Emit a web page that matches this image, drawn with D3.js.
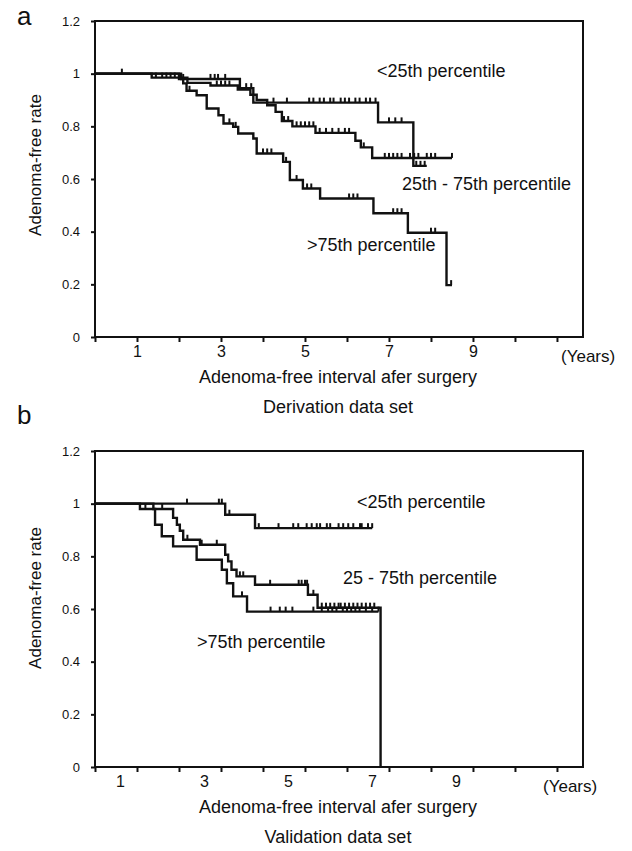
<!DOCTYPE html>
<html>
<head>
<meta charset="utf-8">
<script src="https://cdn.jsdelivr.net/npm/d3@7"></script>
<style>
  body { margin: 0; background: #fff; }
  text { font-family: "Liberation Sans", Arial, sans-serif; fill: #111; }
</style>
</head>
<body>
<div id="wrapper"></div>
<script>
// axis values
const yearTicks = [0, 1, 2, 3, 4, 5, 6, 7, 8, 9, 10, 11];
const yearLabels = [1, 3, 5, 7, 9];
const rateTicks = [0, 0.2, 0.4, 0.6, 0.8, 1, 1.2];
const groupNames = ["<25th percentile", "25th - 75th percentile", ">75th percentile"];
const groupNamesB = ["<25th percentile", "25 - 75th percentile", ">75th percentile"];

// panel a, derivation set : step times, survival after each step, censor times, last follow-up
const aTopTimes = [0, 2.05, 3.45, 3.77, 6.74, 7.58];
const aTopSurv = [1, 0.98, 0.945, 0.89, 0.815, 0.65];
const aTopCens = [0.64, 2.1, 2.75, 2.85, 2.93, 3.1, 3.6, 3.72, 4.25, 4.57, 5.1, 5.2, 5.35, 5.45, 5.6, 5.68,
  5.85, 5.95, 6.05, 6.2, 6.3, 6.45, 6.55, 6.68, 7.0, 7.15, 7.3, 7.65, 7.75, 7.85];
const aTopEnd = 7.9;

const aMidTimes = [0, 1.35, 2.2, 2.75, 3.4, 3.7, 3.85, 4.1, 4.3, 4.45, 4.7, 5.25, 6.2, 6.33, 6.6];
const aMidSurv = [1, 0.985, 0.965, 0.955, 0.94, 0.92, 0.9, 0.88, 0.855, 0.82, 0.8, 0.775, 0.745, 0.72, 0.68];
const aMidCens = [1.45, 1.6, 1.7, 1.8, 1.9, 2.9, 3.0, 3.1, 3.2, 4.5, 4.6, 4.8, 4.9, 5.0, 5.1, 5.2, 5.35, 5.5,
  5.65, 5.8, 5.95, 6.05, 6.4, 6.9, 7.0, 7.1, 7.2, 7.3, 7.5, 7.6, 7.7, 7.9, 8.0, 8.1, 8.5];
const aMidEnd = 8.5;

const aLowTimes = [0, 2.0, 2.1, 2.18, 2.42, 2.66, 2.94, 3.06, 3.29, 3.41, 3.77, 3.85, 4.48, 4.64, 4.95, 5.36, 6.63, 7.45, 8.37];
const aLowSurv = [1, 0.98, 0.963, 0.935, 0.918, 0.868, 0.842, 0.811, 0.798, 0.773, 0.754, 0.697, 0.665, 0.596, 0.564, 0.526, 0.47, 0.396, 0.197];
const aLowCens = [2.25, 3.2, 3.35, 4.0, 4.1, 4.2, 4.55, 4.8, 5.05, 5.15, 6.05, 6.15, 6.25, 7.1, 7.2, 7.3, 8.0, 8.1, 8.48];
const aLowEnd = 8.5;

// panel b, validation set
const bTopTimes = [0, 3.1, 3.81];
const bTopSurv = [1, 0.958, 0.907];
const bTopCens = [2.19, 2.95, 3.02, 3.2, 3.9, 4.37, 4.72, 4.84, 5.04, 5.16, 5.28, 5.36, 5.52, 5.6, 5.8, 5.91,
  6.03, 6.15, 6.31, 6.35, 6.5, 6.6];
const bTopEnd = 6.6;

const bMidTimes = [0, 1.39, 1.86, 1.95, 2.02, 2.1, 2.5, 3.1, 3.17, 3.25, 3.37, 3.81, 5.07, 5.3, 6.8];
const bMidSurv = [1, 0.98, 0.946, 0.92, 0.897, 0.863, 0.844, 0.806, 0.781, 0.749, 0.724, 0.692, 0.654, 0.605, 0];
const bMidCens = [1.6, 2.2, 2.54, 2.9, 3.45, 3.53, 4.17, 4.85, 4.92, 5.0, 5.05, 5.2, 5.4, 5.5, 5.6, 5.7, 5.8,
  5.85, 5.95, 6.05, 6.15, 6.25, 6.35, 6.45, 6.55, 6.65];
const bMidEnd = 6.8;

const bLowTimes = [0, 1.07, 1.43, 1.59, 1.86, 2.42, 3.02, 3.14, 3.29, 3.62];
const bLowSurv = [1, 0.98, 0.92, 0.876, 0.838, 0.787, 0.749, 0.698, 0.648, 0.59];
const bLowCens = [1.2, 3.5, 4.18, 4.4, 4.54, 4.7, 5.2, 5.4, 5.55, 5.65, 5.75, 5.9, 6.0, 6.1, 6.2, 6.3, 6.45, 6.6, 6.75];
const bLowEnd = 6.75;

const width = 632, height = 851;

const svg = d3.select("#wrapper").append("svg")
  .attr("width", width)
  .attr("height", height);
svg.append("rect").attr("width", width).attr("height", height).attr("fill", "#fff");

function drawPanel(p) {
  const x = d3.scaleLinear().domain([0, 11.62]).range([95, 583]);
  const y = d3.scaleLinear().domain([0, 1.2]).range([p.bottom, p.top]);
  const g = svg.append("g");

  // frame
  g.append("rect")
    .attr("x", x(0)).attr("y", y(1.2))
    .attr("width", x(11.62) - x(0)).attr("height", y(0) - y(1.2))
    .attr("fill", "none").attr("stroke", "#111").attr("stroke-width", 2);

  const xAxis = d3.axisBottom(x)
    .tickValues(yearTicks)
    .tickSize(5)
    .tickPadding(4)
    .tickFormat(d => yearLabels.includes(d) ? d : "");
  const gx = g.append("g").attr("transform", `translate(0,${p.bottom})`).call(xAxis);
  gx.select(".domain").remove();
  gx.selectAll("line").attr("stroke", "#111").attr("stroke-width", 2);
  gx.selectAll("text").style("font-size", "16px").attr("x", p.labelShift);

  const yAxis = d3.axisLeft(y)
    .tickValues(rateTicks)
    .tickSize(4)
    .tickPadding(11)
    .tickFormat(d => String(d));
  const gy = g.append("g").attr("transform", `translate(${x(0)},0)`).call(yAxis);
  gy.select(".domain").remove();
  gy.selectAll("line").attr("stroke", "#111").attr("stroke-width", 2);
  gy.selectAll("text").style("font-size", "13px");

  const line = d3.line()
    .x(d => x(d[0]))
    .y(d => y(d[1]))
    .curve(d3.curveStepAfter);

  p.curves.forEach(c => {
    const pts = c.times.map((t, i) => [t, c.surv[i]]);
    pts.push([c.end, c.surv[c.surv.length - 1]]);
    g.append("path")
      .attr("d", line(pts))
      .attr("fill", "none")
      .attr("stroke", "#111")
      .attr("stroke-width", 2.4);

    const survAt = t => c.surv[Math.max(0, d3.bisectRight(c.times, t) - 1)];
    g.selectAll(null)
      .data(c.cens)
      .join("line")
      .attr("x1", d => x(d)).attr("x2", d => x(d))
      .attr("y1", d => y(survAt(d)))
      .attr("y2", d => y(survAt(d)) - 5)
      .attr("stroke", "#111")
      .attr("stroke-width", 2);
  });

  // group labels
  p.names.forEach((n, i) => {
    g.append("text")
      .attr("x", p.namePos[i][0]).attr("y", p.namePos[i][1])
      .style("font-size", "18px")
      .text(n);
  });

  g.append("text")
    .attr("x", p.yearsX).attr("y", p.bottom + 25)
    .style("font-size", "17px")
    .text("(Years)");

  g.append("text")
    .attr("x", 338).attr("y", p.bottom + 46)
    .attr("text-anchor", "middle")
    .style("font-size", "18px")
    .text("Adenoma-free interval afer surgery");

  g.append("text")
    .attr("x", 338).attr("y", p.bottom + 76)
    .attr("text-anchor", "middle")
    .style("font-size", "18px")
    .text(p.setName);

  g.append("text")
    .attr("transform", `translate(41,${p.titleY}) rotate(-90)`)
    .attr("text-anchor", "middle")
    .style("font-size", "17px")
    .text("Adenoma-free rate");

  g.append("text")
    .attr("x", 17).attr("y", p.letterY)
    .style("font-size", "26px")
    .text(p.letter);
}

drawPanel({
  top: 21, bottom: 337, labelShift: 0, letter: "a", letterY: 25,
  setName: "Derivation data set", titleY: 165, yearsX: 561,
  names: groupNames,
  namePos: [[377, 77], [402, 190], [307, 251]],
  curves: [
    { times: aTopTimes, surv: aTopSurv, cens: aTopCens, end: aTopEnd },
    { times: aMidTimes, surv: aMidSurv, cens: aMidCens, end: aMidEnd },
    { times: aLowTimes, surv: aLowSurv, cens: aLowCens, end: aLowEnd }
  ]
});

drawPanel({
  top: 451, bottom: 767, labelShift: -17, letter: "b", letterY: 424,
  setName: "Validation data set", titleY: 598, yearsX: 543,
  names: groupNamesB,
  namePos: [[357, 508], [343, 584], [197, 648]],
  curves: [
    { times: bTopTimes, surv: bTopSurv, cens: bTopCens, end: bTopEnd },
    { times: bMidTimes, surv: bMidSurv, cens: bMidCens, end: bMidEnd },
    { times: bLowTimes, surv: bLowSurv, cens: bLowCens, end: bLowEnd }
  ]
});
</script>
</body>
</html>
